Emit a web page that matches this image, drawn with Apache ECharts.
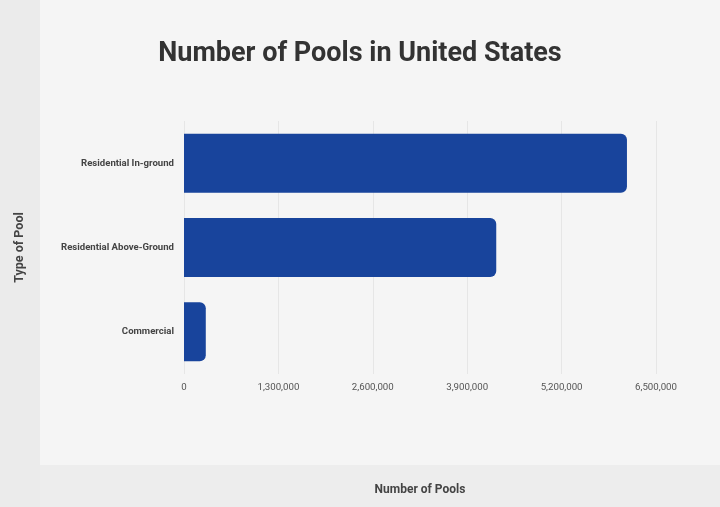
<!DOCTYPE html>
<html>
<head>
<meta charset="utf-8">
<title>Number of Pools in United States</title>
<script src="https://cdn.jsdelivr.net/npm/echarts@6/dist/echarts.min.js"></script>
<style>
  html, body { margin: 0; padding: 0; background: #f5f5f5; }
  #chart { width: 720px; height: 507px; }
</style>
</head>
<body>
<div id="chart"></div>
<script>
// pool types, top to bottom as drawn
const poolTypes = ['Residential In-ground', 'Residential Above-Ground', 'Commercial'];
const poolCounts = [6100000, 4300000, 300000];
const xTicks = { min: 0, max: 6500000, interval: 1300000 };

const chart = echarts.init(document.getElementById('chart'));

const option = {
  backgroundColor: '#f5f5f5',
  textStyle: { fontFamily: 'Roboto' },
  title: {
    text: 'Number of Pools in United States',
    left: 'center',
    top: 36,
    textStyle: { fontSize: 27, fontWeight: 'bold', color: '#333', fontFamily: 'Roboto' }
  },
  graphic: [
    // left band behind the y-axis title
    { type: 'rect', left: 0, top: 0, z: -1, shape: { width: 40, height: 507 }, style: { fill: '#ebebeb' } },
    // bottom band behind the x-axis title
    { type: 'rect', left: 40, top: 465, z: -1, shape: { width: 680, height: 42 }, style: { fill: '#ededed' } }
  ],
  grid: { left: 184, right: 64, top: 121, height: 253 },
  xAxis: {
    type: 'value',
    min: xTicks.min,
    max: xTicks.max,
    interval: xTicks.interval,
    name: 'Number of Pools',
    nameLocation: 'middle',
    nameGap: 110,
    nameTextStyle: { fontSize: 12, fontWeight: 'bold', color: '#444' },
    axisLine: { show: false },
    axisTick: { show: false },
    axisLabel: {
      color: '#555',
      fontSize: 9.7,
      margin: 9,
      formatter: (v) => v.toLocaleString('en-US')
    },
    splitLine: { lineStyle: { color: '#e6e6e6', width: 1 } }
  },
  yAxis: {
    type: 'category',
    inverse: true,
    data: poolTypes,
    name: 'Type of Pool',
    nameLocation: 'middle',
    nameRotate: 90,
    nameGap: 158,
    nameTextStyle: { fontSize: 12.5, fontWeight: 'bold', color: '#444' },
    axisLine: { show: false },
    axisTick: { show: false },
    axisLabel: { color: '#444', fontSize: 9.6, fontWeight: 'bold', margin: 10 }
  },
  series: [
    {
      name: 'Pools',
      type: 'bar',
      data: poolCounts,
      barWidth: 59,
      itemStyle: { color: '#18449c', borderRadius: [0, 6, 6, 0] }
    }
  ]
};

chart.setOption(option);
</script>
</body>
</html>
